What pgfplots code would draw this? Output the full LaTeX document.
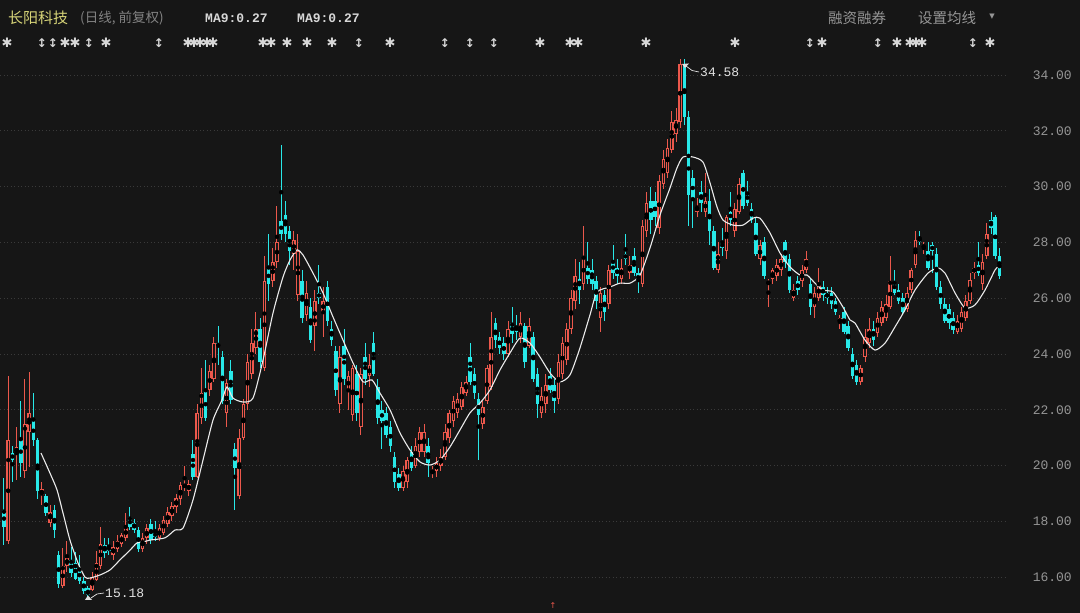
\documentclass[border=0pt]{standalone}
\usepackage{fontspec}
\usepackage{pgfplots}
\usepackage{pgfplotstable}
\pgfplotsset{compat=1.18}
\setmainfont{Liberation Sans}
\newfontfamily\cjk{Noto Sans CJK SC}
\newfontfamily\mono{Liberation Mono}
\newfontfamily\sym{DejaVu Sans}
\definecolor{bg}{RGB}{22,22,22}
\definecolor{cred}{RGB}{236,88,76}
\definecolor{ccyan}{RGB}{40,232,232}
\definecolor{maline}{RGB}{235,235,235}
\definecolor{labc}{RGB}{150,150,150}
\definecolor{gridc}{RGB}{58,58,58}
\definecolor{cname}{RGB}{215,212,120}
\definecolor{cgrey}{RGB}{130,130,130}
\definecolor{cgrey2}{RGB}{150,150,150}
\definecolor{cma}{RGB}{215,215,215}
\definecolor{cstar}{RGB}{215,215,215}
\definecolor{cann}{RGB}{225,225,225}

\pgfplotstableread{
i o h l c
0 18.4 19.55 17.15 17.8
1 17.3 23.2 17.2 20.9
2 20.45 20.7 19.4 20.2
3 20.45 21.4 19.5 20.65
4 20.9 22.3 19.6 20.1
5 19.8 23.1 19.55 21.5
6 21.2 23.35 19.95 21.9
7 21.6 22.6 20.7 20.9
8 20.9 21.0 18.8 19.1
9 18.95 19.4 18.6 19.15
10 18.9 19.0 18.2 18.3
11 17.95 18.6 17.8 18.35
12 18.4 18.6 17.4 17.7
13 16.8 16.95 15.6 15.75
14 15.7 17.05 15.6 16.4
15 16.4 17.3 16.2 16.7
16 16.6 17.1 16.0 16.15
17 16.5 16.9 15.9 15.95
18 16.3 16.8 15.75 15.85
19 15.85 16.0 15.4 15.5
20 15.6 15.7 15.18 15.35
21 15.55 16.2 15.5 16.0
22 15.9 16.95 15.85 16.5
23 16.4 17.8 16.3 17.2
24 17.15 17.4 16.7 16.85
25 17.1 17.4 16.8 16.95
26 16.8 17.3 16.6 17.1
27 17.0 17.5 16.9 17.3
28 17.2 17.6 17.1 17.5
29 17.4 18.3 17.3 17.8
30 18.15 18.5 17.7 17.8
31 17.95 18.1 17.6 17.7
32 17.7 17.8 16.9 17.0
33 17.0 17.6 16.9 17.4
34 17.4 17.9 17.2 17.75
35 17.9 18.1 17.2 17.35
36 17.6 18.0 17.3 17.45
37 17.4 17.9 17.3 17.75
38 17.6 18.2 17.5 18.05
39 17.9 18.5 17.8 18.35
40 18.2 18.7 18.0 18.55
41 18.5 19.0 18.3 18.85
42 18.8 19.4 18.6 19.3
43 19.25 20.0 19.1 19.3
44 19.1 19.5 18.9 19.35
45 20.4 20.9 19.5 19.6
46 19.6 22.2 19.55 21.9
47 21.7 23.5 21.5 22.6
48 22.7 23.8 21.6 21.7
49 22.7 23.6 22.5 23.4
50 23.1 24.6 23.0 24.4
51 24.4 25.0 23.6 24.25
52 23.9 24.1 22.2 22.3
53 21.9 23.1 21.4 22.95
54 23.4 23.8 22.2 22.35
55 20.6 20.8 18.4 19.9
56 18.9 21.3 18.8 21.0
57 21.0 22.4 20.9 22.2
58 22.2 24.0 22.0 23.7
59 23.3 24.9 23.1 24.4
60 24.2 25.5 24.0 24.9
61 24.9 25.3 23.5 23.7
62 23.5 27.5 23.4 26.6
63 27.1 28.3 25.9 26.5
64 26.6 27.8 26.4 27.3
65 27.3 29.3 27.1 28.0
66 28.75 31.5 28.1 28.3
67 29.0 29.5 28.0 28.3
68 28.4 28.6 27.2 27.7
69 27.6 28.4 27.0 28.1
70 26.1 28.3 25.9 27.7
71 26.6 27.0 25.1 25.3
72 25.4 26.6 25.2 26.2
73 25.7 26.0 24.4 24.5
74 25.0 26.3 24.1 25.9
75 26.2 27.2 25.8 26.0
76 25.5 26.4 24.6 25.9
77 26.4 26.6 25.0 25.2
78 24.9 25.2 24.3 24.5
79 24.1 24.3 22.5 22.7
80 22.2 24.3 21.9 23.9
81 24.3 24.9 22.9 23.1
82 22.7 23.4 22.0 23.2
83 21.8 23.6 21.6 23.5
84 23.3 23.6 21.6 21.9
85 21.4 23.5 21.1 23.3
86 23.9 24.4 22.9 23.1
87 23.2 24.0 22.8 23.6
88 24.4 24.8 23.2 23.3
89 22.8 23.1 21.5 21.7
90 22.0 22.3 20.6 21.6
91 21.9 22.1 21.0 21.1
92 21.4 21.6 20.5 20.7
93 20.3 20.5 19.2 19.4
94 19.7 19.9 19.1 19.2
95 19.2 20.0 19.1 19.8
96 19.4 20.3 19.2 20.2
97 20.5 20.7 19.8 19.9
98 20.0 21.0 19.9 20.7
99 20.5 21.4 20.3 21.2
100 20.5 21.5 20.3 21.2
101 20.7 21.0 19.6 20.1
102 19.7 20.0 19.55 19.85
103 19.8 20.3 19.6 20.1
104 20.0 20.6 19.8 20.3
105 20.3 21.5 20.2 21.2
106 21.0 22.0 20.8 21.9
107 21.6 22.5 21.4 22.3
108 21.9 22.6 21.7 22.4
109 22.1 23.0 22.0 22.8
110 22.6 23.2 22.5 23.0
111 23.9 24.4 22.9 23.0
112 23.3 23.5 22.4 22.6
113 22.4 22.6 20.2 21.8
114 21.5 22.3 21.3 22.1
115 22.3 23.6 22.2 23.5
116 22.8 25.5 22.7 24.6
117 25.1 25.3 24.2 24.5
118 24.6 24.8 24.0 24.2
119 24.4 24.6 23.8 24.0
120 24.0 25.2 23.9 24.9
121 25.1 25.7 24.4 24.7
122 25.0 25.4 24.5 24.8
123 24.6 25.5 24.4 25.1
124 25.0 25.1 23.5 23.7
125 24.3 25.3 24.2 25.0
126 24.6 24.8 23.0 23.1
127 23.3 23.5 21.7 22.2
128 21.9 22.8 21.7 22.5
129 22.2 23.3 21.9 22.9
130 23.2 23.5 22.6 22.7
131 22.9 23.1 21.9 22.3
132 22.4 24.0 22.2 23.7
133 23.3 24.6 23.1 24.4
134 23.8 25.1 23.6 24.9
135 24.9 26.3 24.7 26.0
136 25.9 27.4 25.6 26.8
137 26.7 27.3 25.8 26.3
138 26.5 28.6 26.3 27.5
139 27.1 28.0 26.5 26.7
140 27.0 27.4 26.3 26.5
141 26.6 26.8 25.6 25.9
142 25.3 26.4 24.8 26.2
143 26.1 26.3 25.2 25.5
144 25.8 27.2 25.6 27.0
145 27.3 27.9 26.7 26.9
146 27.1 27.4 26.5 26.8
147 26.7 27.4 26.5 27.1
148 27.6 28.3 27.2 27.4
149 26.9 27.5 26.7 27.2
150 27.5 27.8 26.8 26.9
151 26.9 27.1 26.2 26.6
152 26.5 28.8 26.4 28.6
153 28.4 29.8 28.2 29.4
154 29.5 30.0 28.3 28.8
155 29.5 29.8 28.6 28.9
156 28.5 30.4 28.3 30.2
157 30.1 31.3 29.9 31.0
158 30.5 31.7 30.3 31.4
159 31.3 32.7 31.2 32.3
160 31.9 32.8 31.6 32.4
161 32.3 34.58 32.1 34.4
162 34.4 34.58 32.2 32.5
163 32.5 32.7 28.6 29.7
164 30.3 30.6 28.5 29.6
165 29.1 29.6 28.9 29.3
166 29.8 30.2 29.1 29.4
167 29.1 30.5 28.9 29.5
168 29.5 29.9 27.9 28.4
169 28.4 28.6 27.0 27.1
170 27.0 28.0 26.9 27.6
171 28.0 28.5 27.5 27.8
172 27.7 29.0 27.4 28.9
173 29.1 29.8 28.6 28.8
174 28.4 29.4 28.2 29.2
175 29.1 30.3 29.0 30.1
176 30.5 30.6 29.2 29.3
177 29.8 30.2 29.3 29.4
178 29.2 29.4 28.7 28.8
179 28.7 28.9 27.5 27.6
180 27.4 28.1 27.2 27.9
181 28.0 28.2 26.7 26.8
182 26.5 26.7 25.7 26.6
183 26.7 27.1 26.5 27.0
184 26.8 27.4 26.6 27.2
185 27.0 27.6 26.8 27.4
186 28.0 28.1 27.1 27.3
187 27.4 27.6 26.2 26.3
188 26.0 26.5 25.9 26.3
189 26.6 26.8 26.1 26.3
190 26.6 27.2 26.4 27.0
191 27.0 27.7 26.9 27.4
192 26.5 26.7 25.4 25.7
193 25.7 26.4 25.3 26.2
194 26.0 27.1 25.9 26.5
195 26.4 26.6 25.9 26.1
196 26.2 26.4 25.8 26.0
197 26.2 26.4 25.6 25.8
198 25.9 26.0 25.4 25.5
199 25.1 25.4 24.9 25.3
200 25.5 25.7 24.7 24.8
201 25.0 25.2 24.1 24.2
202 24.0 24.2 23.1 23.2
203 23.6 23.8 22.9 23.0
204 23.0 23.6 22.9 23.5
205 23.9 24.9 23.7 24.6
206 24.4 25.3 24.2 24.9
207 24.9 25.2 24.3 24.5
208 24.75 25.5 24.6 25.3
209 25.1 25.9 25.0 25.7
210 25.3 26.1 25.2 25.8
211 25.7 27.5 25.6 26.6
212 26.6 27.0 26.1 26.2
213 26.3 26.5 25.8 25.9
214 26.0 26.2 25.4 25.5
215 25.6 26.4 25.5 26.2
216 26.3 27.1 26.2 27.0
217 27.2 28.4 27.1 28.1
218 28.2 28.4 27.9 28.0
219 27.8 28.0 27.6 27.9
220 27.7 28.0 27.0 27.1
221 27.9 28.0 26.9 27.7
222 27.6 27.8 26.3 26.4
223 26.4 26.6 25.6 25.8
224 25.8 26.0 25.1 25.2
225 25.6 25.8 24.9 25.1
226 25.3 25.5 24.7 24.85
227 24.8 25.4 24.7 25.2
228 24.9 25.7 24.8 25.5
229 25.3 26.1 25.2 25.9
230 25.9 26.9 25.8 26.65
231 26.9 27.3 26.7 27.1
232 27.2 28.0 26.8 26.9
233 26.5 27.6 26.3 27.3
234 27.5 28.7 27.4 28.3
235 28.8 29.1 28.3 28.5
236 28.9 29.0 27.4 27.5
237 27.5 27.8 26.7 26.8
}\candles

\pgfplotstableread{
i v
8.81 20.45
10.95 19.73
12.62 19.13
14.05 18.30
15.71 17.33
17.62 16.51
19.29 16.00
20.48 15.97
22.86 16.08
25.24 16.26
27.62 16.62
30.00 16.97
31.67 17.23
33.10 17.26
34.76 17.33
38.33 17.41
40.71 17.69
42.62 17.76
45.00 18.77
47.38 20.20
49.76 21.63
51.90 22.35
53.10 22.82
54.52 22.42
56.90 22.28
59.29 22.42
61.67 23.78
64.05 25.47
66.43 26.76
68.10 27.37
69.76 27.73
71.19 27.55
73.57 26.90
75.95 26.19
78.33 25.33
80.71 24.50
83.10 23.68
85.48 23.00
87.62 23.07
89.52 22.60
91.90 22.00
94.29 21.17
96.67 20.56
99.05 20.13
101.43 20.02
103.81 20.20
106.19 20.67
108.57 21.28
110.95 21.89
113.33 22.24
115.71 22.71
118.10 23.43
120.48 24.04
122.86 24.57
125.24 24.39
127.62 23.89
130.00 23.32
132.38 23.00
134.76 23.25
137.14 24.22
139.52 25.40
141.19 26.22
144.29 26.40
146.67 26.54
149.05 26.54
151.43 26.83
153.81 27.80
156.19 28.98
158.57 29.95
160.24 30.67
161.67 31.06
164.05 31.06
166.43 30.88
168.10 30.13
169.76 29.27
171.19 28.80
173.57 28.62
175.95 28.62
178.33 28.87
180.00 28.87
182.38 28.34
184.76 27.62
187.14 27.12
189.52 26.83
191.19 26.83
193.10 26.54
195.00 26.29
197.38 26.22
199.76 25.68
201.43 25.22
202.62 25.11
205.00 24.50
207.38 24.14
209.76 24.39
212.14 24.97
214.52 25.58
216.90 26.29
220.00 26.90
222.38 27.08
224.05 26.90
226.43 26.19
228.81 25.65
231.19 25.76
233.57 26.29
235.95 27.01
236.67 27.12
}\ma

\begin{document}
\begin{tikzpicture}
\useasboundingbox (0pt,0pt) rectangle (1080pt,613pt);
\fill[bg] (0pt,0pt) rectangle (1080pt,613pt);
\begin{axis}[
  at={(0pt,0pt)}, anchor=south west,
  scale only axis, width=1005pt, height=558pt,
  xmin=-0.952, xmax=238.33, ymin=14.717, ymax=34.717,
  axis line style={draw=none},
  xtick=\empty,
  ytick={16,18,...,34},
  yticklabel pos=right,
  major tick length=0pt,
  /pgf/number format/assume math mode=true,
  yticklabel style={font=\mono\fontsize{13}{13}\selectfont, text=labc, anchor=east, inner sep=0pt, xshift=67pt,
    /pgf/number format/fixed, /pgf/number format/fixed zerofill, /pgf/number format/precision=2},
  ymajorgrids,
  major grid style={draw=gridc, dash pattern=on 1pt off 2.5pt, line width=0.7pt},
]
% red wicks
\addplot[only marks, mark=none, forget plot, error bars/.cd, y dir=both, y explicit, error mark=none,
  error bar style={line width=1pt, color=cred}]
  table[x=i, y expr={\thisrow{c}>=\thisrow{o} ? (\thisrow{h}+\thisrow{l})/2 : nan},
        y error expr={(\thisrow{h}-\thisrow{l})/2}] {\candles};
% red bodies
\addplot[only marks, mark=none, forget plot, error bars/.cd, y dir=both, y explicit, error mark=none,
  error bar style={line width=3.6pt, color=cred}]
  table[x=i, y expr={\thisrow{c}>=\thisrow{o} ? (\thisrow{o}+\thisrow{c})/2 : nan},
        y error expr={max((\thisrow{c}-\thisrow{o})/2,0.035)}] {\candles};
% hollow interior
\addplot[only marks, mark=none, forget plot, error bars/.cd, y dir=both, y explicit, error mark=none,
  error bar style={line width=1.2pt, color=bg}]
  table[x=i, y expr={\thisrow{c}>=\thisrow{o} ? (\thisrow{o}+\thisrow{c})/2 : nan},
        y error expr={max((\thisrow{c}-\thisrow{o})/2-0.036,0)}] {\candles};
% cyan wicks
\addplot[only marks, mark=none, forget plot, error bars/.cd, y dir=both, y explicit, error mark=none,
  error bar style={line width=1pt, color=ccyan}]
  table[x=i, y expr={\thisrow{c}<\thisrow{o} ? (\thisrow{h}+\thisrow{l})/2 : nan},
        y error expr={(\thisrow{h}-\thisrow{l})/2}] {\candles};
% cyan bodies
\addplot[only marks, mark=none, forget plot, error bars/.cd, y dir=both, y explicit, error mark=none,
  error bar style={line width=3.6pt, color=ccyan}]
  table[x=i, y expr={\thisrow{c}<\thisrow{o} ? (\thisrow{o}+\thisrow{c})/2 : nan},
        y error expr={max((\thisrow{o}-\thisrow{c})/2,0.035)}] {\candles};
% MA9
\addplot[color=maline, line width=1.1pt, smooth, tension=0.4, mark=none] table[x=i, y=v] {\ma};
\end{axis}

% header
\node[anchor=west, inner sep=0pt, text=cname, font=\cjk\fontsize{15}{15}\selectfont] at (8pt,595pt) {长阳科技};
\node[anchor=west, inner sep=0pt, text=cgrey, font=\cjk\fontsize{13.5}{14}\selectfont] at (80pt,595pt) {(日线, 前复权)};
\node[anchor=west, inner sep=0pt, text=cma, font=\mono\bfseries\fontsize{13}{13}\selectfont] at (205pt,595pt) {MA9:0.27};
\node[anchor=west, inner sep=0pt, text=cma, font=\mono\bfseries\fontsize{13}{13}\selectfont] at (297pt,595pt) {MA9:0.27};
\node[anchor=west, inner sep=0pt, text=cgrey2, font=\cjk\fontsize{14.5}{15}\selectfont] at (828pt,595pt) {融资融券};
\node[anchor=west, inner sep=0pt, text=cgrey2, font=\cjk\fontsize{14.5}{15}\selectfont] at (918pt,595pt) {设置均线};
\node[inner sep=0pt, text=cgrey2, font=\sym\fontsize{7}{7}\selectfont] at (992pt,596pt) {▼};

% event markers
\foreach \x in {7,65,75,106,188,194,200,207,213,263,271,287,307,332,390,540,570,578,646,735,822,897,910,916,922,990}
  \node[inner sep=0pt, text=cstar, font=\sym\bfseries\fontsize{13}{13}\selectfont] at (\x pt,570pt) {✱};
\foreach \x in {42,53,89,159,359,445,470,494,810,878,973}
  \node[inner sep=0pt, text=cstar, font=\sym\bfseries\fontsize{12}{12}\selectfont] at (\x pt,570pt) {↕};

% annotations
\fill[cann] (682pt,549pt) -- (689pt,549.5pt) -- (685pt,545pt) -- cycle;
\draw[cann, line width=0.7pt] (686pt,547pt) -- (692pt,542.5pt) -- (699pt,541pt);
\node[anchor=west, inner sep=0pt, text=cann, font=\mono\fontsize{13}{13}\selectfont] at (700pt,541pt) {34.58};
\fill[cann] (85pt,13pt) -- (92pt,13pt) -- (88pt,17.5pt) -- cycle;
\draw[cann, line width=0.7pt] (91pt,15pt) -- (97pt,19pt) -- (104pt,20pt);
\node[anchor=west, inner sep=0pt, text=cann, font=\mono\fontsize{13}{13}\selectfont] at (105pt,20pt) {15.18};
\node[inner sep=0pt, text=cred, font=\sym\fontsize{8}{8}\selectfont] at (553pt,7pt) {↑};
\end{tikzpicture}
\end{document}
